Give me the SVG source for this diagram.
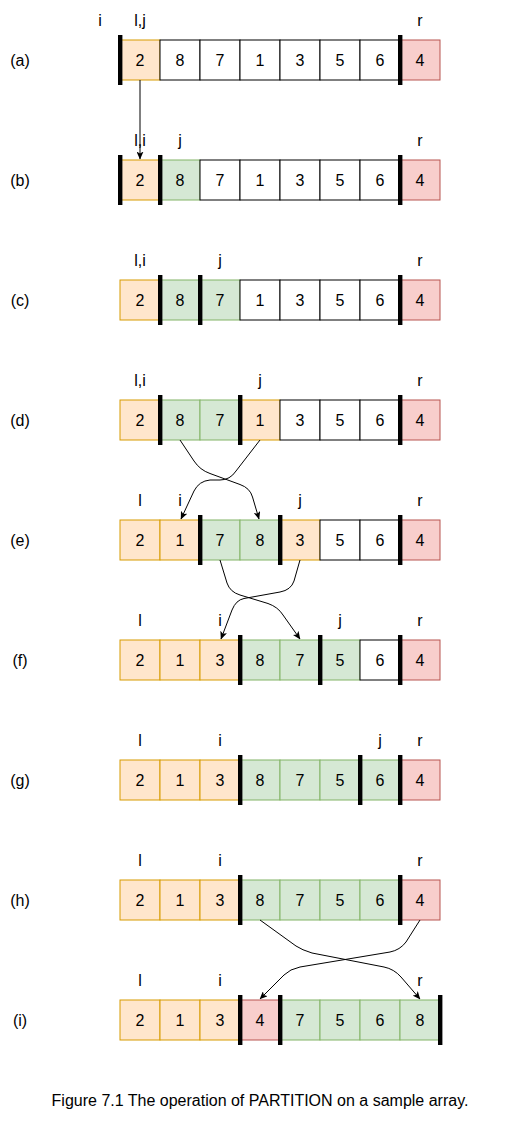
<svg xmlns="http://www.w3.org/2000/svg" width="521" height="1121" viewBox="0 0 521 1121">
<defs>
<style>
.o{fill:#ffe6cc;stroke:#d79b00;stroke-width:1}
.g{fill:#d5e8d4;stroke:#82b366;stroke-width:1}
.r{fill:#f8cecc;stroke:#b85450;stroke-width:1}
.w{fill:#ffffff;stroke:#000000;stroke-width:1}
text{font-family:"Liberation Sans",Arial,sans-serif;font-size:16px;fill:#000;text-anchor:middle}
.bar{fill:#000}
.edge{fill:none;stroke:#000;stroke-width:1}
</style>
<marker id="arr" viewBox="0 0 8 7" refX="7.5" refY="3.5" markerWidth="8" markerHeight="7" markerUnits="userSpaceOnUse" orient="auto">
<path d="M0,0 L8,3.5 L0,7 L2,3.5 z" fill="#000"/>
</marker>
</defs>
<rect width="521" height="1121" fill="#fff"/>

<!-- Row (a) -->
<g id="row-a">
<text x="20" y="66">(a)</text>
<text x="100" y="26">i</text><text x="140" y="26">l,j</text><text x="420" y="26">r</text>
<g id="a0"><rect class="o" x="120" y="40" width="40" height="40"/><text x="140" y="66">2</text></g>
<g id="a1"><rect class="w" x="160" y="40" width="40" height="40"/><text x="180" y="66">8</text></g>
<g id="a2"><rect class="w" x="200" y="40" width="40" height="40"/><text x="220" y="66">7</text></g>
<g id="a3"><rect class="w" x="240" y="40" width="40" height="40"/><text x="260" y="66">1</text></g>
<g id="a4"><rect class="w" x="280" y="40" width="40" height="40"/><text x="300" y="66">3</text></g>
<g id="a5"><rect class="w" x="320" y="40" width="40" height="40"/><text x="340" y="66">5</text></g>
<g id="a6"><rect class="w" x="360" y="40" width="40" height="40"/><text x="380" y="66">6</text></g>
<g id="a7"><rect class="r" x="400" y="40" width="40" height="40"/><text x="420" y="66">4</text></g>
<rect class="bar" x="118" y="35" width="4.4" height="50"/><rect class="bar" x="398" y="35" width="4.4" height="50"/>
</g>

<!-- Row (b) -->
<g id="row-b">
<text x="20" y="186">(b)</text>
<text x="140" y="146">l,i</text><text x="180" y="146">j</text><text x="420" y="146">r</text>
<g id="b0"><rect class="o" x="120" y="160" width="40" height="40"/><text x="140" y="186">2</text></g>
<g id="b1"><rect class="g" x="160" y="160" width="40" height="40"/><text x="180" y="186">8</text></g>
<g id="b2"><rect class="w" x="200" y="160" width="40" height="40"/><text x="220" y="186">7</text></g>
<g id="b3"><rect class="w" x="240" y="160" width="40" height="40"/><text x="260" y="186">1</text></g>
<g id="b4"><rect class="w" x="280" y="160" width="40" height="40"/><text x="300" y="186">3</text></g>
<g id="b5"><rect class="w" x="320" y="160" width="40" height="40"/><text x="340" y="186">5</text></g>
<g id="b6"><rect class="w" x="360" y="160" width="40" height="40"/><text x="380" y="186">6</text></g>
<g id="b7"><rect class="r" x="400" y="160" width="40" height="40"/><text x="420" y="186">4</text></g>
<rect class="bar" x="118" y="155" width="4.4" height="50"/><rect class="bar" x="158" y="155" width="4.4" height="50"/><rect class="bar" x="398" y="155" width="4.4" height="50"/>
</g>

<!-- Row (c) -->
<g id="row-c">
<text x="20" y="306">(c)</text>
<text x="140" y="266">l,i</text><text x="220" y="266">j</text><text x="420" y="266">r</text>
<g id="c0"><rect class="o" x="120" y="280" width="40" height="40"/><text x="140" y="306">2</text></g>
<g id="c1"><rect class="g" x="160" y="280" width="40" height="40"/><text x="180" y="306">8</text></g>
<g id="c2"><rect class="g" x="200" y="280" width="40" height="40"/><text x="220" y="306">7</text></g>
<g id="c3"><rect class="w" x="240" y="280" width="40" height="40"/><text x="260" y="306">1</text></g>
<g id="c4"><rect class="w" x="280" y="280" width="40" height="40"/><text x="300" y="306">3</text></g>
<g id="c5"><rect class="w" x="320" y="280" width="40" height="40"/><text x="340" y="306">5</text></g>
<g id="c6"><rect class="w" x="360" y="280" width="40" height="40"/><text x="380" y="306">6</text></g>
<g id="c7"><rect class="r" x="400" y="280" width="40" height="40"/><text x="420" y="306">4</text></g>
<rect class="bar" x="158" y="275" width="4.4" height="50"/><rect class="bar" x="198" y="275" width="4.4" height="50"/><rect class="bar" x="398" y="275" width="4.4" height="50"/>
</g>

<!-- Row (d) -->
<g id="row-d">
<text x="20" y="426">(d)</text>
<text x="140" y="386">l,i</text><text x="260" y="386">j</text><text x="420" y="386">r</text>
<g id="d0"><rect class="o" x="120" y="400" width="40" height="40"/><text x="140" y="426">2</text></g>
<g id="d1"><rect class="g" x="160" y="400" width="40" height="40"/><text x="180" y="426">8</text></g>
<g id="d2"><rect class="g" x="200" y="400" width="40" height="40"/><text x="220" y="426">7</text></g>
<g id="d3"><rect class="o" x="240" y="400" width="40" height="40"/><text x="260" y="426">1</text></g>
<g id="d4"><rect class="w" x="280" y="400" width="40" height="40"/><text x="300" y="426">3</text></g>
<g id="d5"><rect class="w" x="320" y="400" width="40" height="40"/><text x="340" y="426">5</text></g>
<g id="d6"><rect class="w" x="360" y="400" width="40" height="40"/><text x="380" y="426">6</text></g>
<g id="d7"><rect class="r" x="400" y="400" width="40" height="40"/><text x="420" y="426">4</text></g>
<rect class="bar" x="158" y="395" width="4.4" height="50"/><rect class="bar" x="238" y="395" width="4.4" height="50"/><rect class="bar" x="398" y="395" width="4.4" height="50"/>
</g>

<!-- Row (e) -->
<g id="row-e">
<text x="20" y="546">(e)</text>
<text x="140" y="506">l</text><text x="180" y="506">i</text><text x="300" y="506">j</text><text x="420" y="506">r</text>
<g id="e0"><rect class="o" x="120" y="520" width="40" height="40"/><text x="140" y="546">2</text></g>
<g id="e1"><rect class="o" x="160" y="520" width="40" height="40"/><text x="180" y="546">1</text></g>
<g id="e2"><rect class="g" x="200" y="520" width="40" height="40"/><text x="220" y="546">7</text></g>
<g id="e3"><rect class="g" x="240" y="520" width="40" height="40"/><text x="260" y="546">8</text></g>
<g id="e4"><rect class="o" x="280" y="520" width="40" height="40"/><text x="300" y="546">3</text></g>
<g id="e5"><rect class="w" x="320" y="520" width="40" height="40"/><text x="340" y="546">5</text></g>
<g id="e6"><rect class="w" x="360" y="520" width="40" height="40"/><text x="380" y="546">6</text></g>
<g id="e7"><rect class="r" x="400" y="520" width="40" height="40"/><text x="420" y="546">4</text></g>
<rect class="bar" x="198" y="515" width="4.4" height="50"/><rect class="bar" x="278" y="515" width="4.4" height="50"/><rect class="bar" x="398" y="515" width="4.4" height="50"/>
</g>

<!-- Row (f) -->
<g id="row-f">
<text x="20" y="666">(f)</text>
<text x="140" y="626">l</text><text x="220" y="626">i</text><text x="340" y="626">j</text><text x="420" y="626">r</text>
<g id="f0"><rect class="o" x="120" y="640" width="40" height="40"/><text x="140" y="666">2</text></g>
<g id="f1"><rect class="o" x="160" y="640" width="40" height="40"/><text x="180" y="666">1</text></g>
<g id="f2"><rect class="o" x="200" y="640" width="40" height="40"/><text x="220" y="666">3</text></g>
<g id="f3"><rect class="g" x="240" y="640" width="40" height="40"/><text x="260" y="666">8</text></g>
<g id="f4"><rect class="g" x="280" y="640" width="40" height="40"/><text x="300" y="666">7</text></g>
<g id="f5"><rect class="g" x="320" y="640" width="40" height="40"/><text x="340" y="666">5</text></g>
<g id="f6"><rect class="w" x="360" y="640" width="40" height="40"/><text x="380" y="666">6</text></g>
<g id="f7"><rect class="r" x="400" y="640" width="40" height="40"/><text x="420" y="666">4</text></g>
<rect class="bar" x="238" y="635" width="4.4" height="50"/><rect class="bar" x="318" y="635" width="4.4" height="50"/><rect class="bar" x="398" y="635" width="4.4" height="50"/>
</g>

<!-- Row (g) -->
<g id="row-g">
<text x="20" y="786">(g)</text>
<text x="140" y="746">l</text><text x="220" y="746">i</text><text x="380" y="746">j</text><text x="420" y="746">r</text>
<g id="g0"><rect class="o" x="120" y="760" width="40" height="40"/><text x="140" y="786">2</text></g>
<g id="g1"><rect class="o" x="160" y="760" width="40" height="40"/><text x="180" y="786">1</text></g>
<g id="g2"><rect class="o" x="200" y="760" width="40" height="40"/><text x="220" y="786">3</text></g>
<g id="g3"><rect class="g" x="240" y="760" width="40" height="40"/><text x="260" y="786">8</text></g>
<g id="g4"><rect class="g" x="280" y="760" width="40" height="40"/><text x="300" y="786">7</text></g>
<g id="g5"><rect class="g" x="320" y="760" width="40" height="40"/><text x="340" y="786">5</text></g>
<g id="g6"><rect class="g" x="360" y="760" width="40" height="40"/><text x="380" y="786">6</text></g>
<g id="g7"><rect class="r" x="400" y="760" width="40" height="40"/><text x="420" y="786">4</text></g>
<rect class="bar" x="238" y="755" width="4.4" height="50"/><rect class="bar" x="358" y="755" width="4.4" height="50"/><rect class="bar" x="398" y="755" width="4.4" height="50"/>
</g>

<!-- Row (h) -->
<g id="row-h">
<text x="20" y="906">(h)</text>
<text x="140" y="866">l</text><text x="220" y="866">i</text><text x="420" y="866">r</text>
<g id="h0"><rect class="o" x="120" y="880" width="40" height="40"/><text x="140" y="906">2</text></g>
<g id="h1"><rect class="o" x="160" y="880" width="40" height="40"/><text x="180" y="906">1</text></g>
<g id="h2"><rect class="o" x="200" y="880" width="40" height="40"/><text x="220" y="906">3</text></g>
<g id="h3"><rect class="g" x="240" y="880" width="40" height="40"/><text x="260" y="906">8</text></g>
<g id="h4"><rect class="g" x="280" y="880" width="40" height="40"/><text x="300" y="906">7</text></g>
<g id="h5"><rect class="g" x="320" y="880" width="40" height="40"/><text x="340" y="906">5</text></g>
<g id="h6"><rect class="g" x="360" y="880" width="40" height="40"/><text x="380" y="906">6</text></g>
<g id="h7"><rect class="r" x="400" y="880" width="40" height="40"/><text x="420" y="906">4</text></g>
<rect class="bar" x="238" y="875" width="4.4" height="50"/><rect class="bar" x="398" y="875" width="4.4" height="50"/>
</g>

<!-- Row (i) -->
<g id="row-i">
<text x="20" y="1026">(i)</text>
<text x="140" y="986">l</text><text x="220" y="986">i</text><text x="420" y="986">r</text>
<g id="i0"><rect class="o" x="120" y="1000" width="40" height="40"/><text x="140" y="1026">2</text></g>
<g id="i1"><rect class="o" x="160" y="1000" width="40" height="40"/><text x="180" y="1026">1</text></g>
<g id="i2"><rect class="o" x="200" y="1000" width="40" height="40"/><text x="220" y="1026">3</text></g>
<g id="i3"><rect class="r" x="240" y="1000" width="40" height="40"/><text x="260" y="1026">4</text></g>
<g id="i4"><rect class="g" x="280" y="1000" width="40" height="40"/><text x="300" y="1026">7</text></g>
<g id="i5"><rect class="g" x="320" y="1000" width="40" height="40"/><text x="340" y="1026">5</text></g>
<g id="i6"><rect class="g" x="360" y="1000" width="40" height="40"/><text x="380" y="1026">6</text></g>
<g id="i7"><rect class="g" x="400" y="1000" width="40" height="40"/><text x="420" y="1026">8</text></g>
<rect class="bar" x="238" y="995" width="4.4" height="50"/><rect class="bar" x="278" y="995" width="4.4" height="50"/><rect class="bar" x="438" y="995" width="4.4" height="50"/>
</g>

<!-- Connectors -->
<g id="connectors">
<path class="edge" marker-end="url(#arr)" d="M140,80 L140,159"/>
<path class="edge" marker-end="url(#arr)" d="M180,440 L194,461 Q200,470 210,473.5 L240,484.5 Q250,488 252.5,497 L259,519"/>
<path class="edge" marker-end="url(#arr)" d="M260,440 L236,471 Q230,480 220,480 L210,480 Q199,481 194,491 L181,519"/>
<path class="edge" marker-end="url(#arr)" d="M220,560 L227,583 Q230,592 240,595 L268,603.5 Q278,607 283,615 L300,639"/>
<path class="edge" marker-end="url(#arr)" d="M300,560 L294,581 Q291,590 280,592 L244,598.5 Q236,600 232,610 L221,639"/>
<path class="edge" marker-end="url(#arr)" d="M260,920 L296,946 Q302,950 312,953 L384,967 Q394,969 401,977 L420,999"/>
<path class="edge" marker-end="url(#arr)" d="M420,920 L406,942 Q400,950 390,952 L300,967 Q290,969 284,975 L260,999"/>
</g>

<text x="260" y="1106">Figure 7.1 The operation of PARTITION on a sample array.</text>
</svg>
